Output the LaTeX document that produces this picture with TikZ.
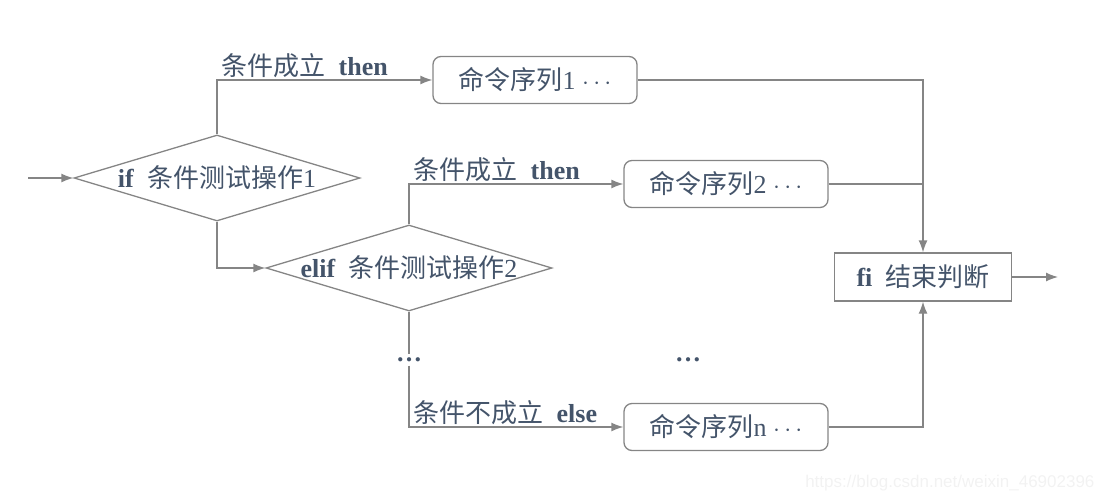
\documentclass[tikz,border=0pt]{standalone}
\usepackage{fontspec}
\setmainfont{Liberation Serif}
\newfontfamily\cjk{Noto Sans CJK SC}
\newfontfamily\urlfont{Liberation Sans}
\usetikzlibrary{shapes.geometric,arrows.meta}
\definecolor{txtcol}{HTML}{44546A}
\definecolor{linecol}{HTML}{858585}

\begin{document}
\begin{tikzpicture}[x=1pt,y=-1pt,>={Latex[length=12pt,width=9pt]},
  every node/.style={text=txtcol,font=\fontsize{26}{30}\selectfont},
  cond/.style={diamond,draw=linecol,line width=1.3pt,minimum width=286pt,minimum height=86pt,inner sep=0pt},
  cmd/.style={rectangle,rounded corners=8pt,draw=linecol,line width=1.3pt,minimum width=204pt,minimum height=47pt},
  link/.style={draw=linecol,line width=1.3pt}]
 \useasboundingbox (0,0) rectangle (1110,503);
 % tests
 \node[cond] (d1) at (217,178) {};
 \node (d1t) at (d1) {\textbf{if}\ \ {\cjk 条件测试操作}1};
 \node[cond] (d2) at (409,268) {};
 \node (d2t) at (d2) {\textbf{elif}\ \ {\cjk 条件测试操作}2};
 % commands
 \node[cmd] (c1) at (535,80) {{\cjk 命令序列}1 $\cdots$};
 \node[cmd] (c2) at (726,184) {{\cjk 命令序列}2 $\cdots$};
 \node[cmd] (cn) at (726,427) {{\cjk 命令序列}n $\cdots$};
 \node[draw=linecol,line width=1.3pt,minimum width=177pt,minimum height=48pt] (fi) at (923,277) {\textbf{fi}\ \ {\cjk 结束判断}};
 \node (dotsa) at (409,360) {\textbf{…}};
 \node (dotsb) at (688,360) {\textbf{…}};
 \coordinate (in) at (28,178);
 \coordinate (out) at (1058,277);
 % connectors
 \draw[link,->] (in) -- (d1.west);
 \draw[link,->] (d1.north) |- (c1.west) node[pos=.5,anchor=south west,xshift=2pt,inner sep=2pt]{{\cjk 条件成立}\ \ \textbf{then}};
 \draw[link,->] (d1.south) |- (d2.west);
 \draw[link,->] (d2.north) |- (c2.west) node[pos=.5,anchor=south west,xshift=2pt,inner sep=2pt]{{\cjk 条件成立}\ \ \textbf{then}};
 \draw[link] (d2.south) -- (dotsa.north);
 \draw[link,->] (dotsa.south) |- (cn.west) node[pos=.5,anchor=south west,xshift=2pt,inner sep=2pt]{{\cjk 条件不成立}\ \ \textbf{else}};
 \draw[link,->] (c1.east) -| (fi.north);
 \draw[link] (c2.east) -- (c2.east -| fi.north);
 \draw[link,->] (cn.east) -| (fi.south);
 \draw[link,->] (fi) -- (out);
 \node[text=black!5,font=\urlfont\fontsize{17}{20}\selectfont,anchor=east] (wm) at (1098,483) {https://blog.csdn.net/weixin\_46902396};
\end{tikzpicture}
\end{document}
